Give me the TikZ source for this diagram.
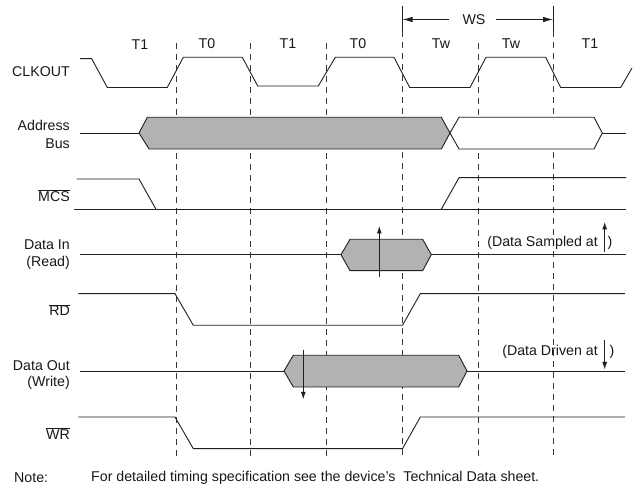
\documentclass[tikz,border=0pt]{standalone}
\usepackage{fontspec}
\setmainfont{Liberation Sans}
\usetikzlibrary{arrows.meta}
\tikzset{
  x=1pt,y=-1pt,
  sig/.style={line width=0.9pt,black!88,line join=miter},
  bus/.style={line width=0.9pt,black!88,fill=black!30,line join=miter},
  openbus/.style={line width=0.9pt,black!88,fill=white,line join=miter},
  guide/.style={line width=0.8pt,black!78,dash pattern=on 6pt off 5pt},
  tick/.style={line width=0.9pt,black!88,-{Latex[length=7.5pt,width=5pt]}},
  wstick/.style={line width=0.9pt,black!88,-{Latex[length=10pt,width=5.5pt]}},
  txt/.style={font=\fontsize{14.2}{16}\selectfont,inner sep=0pt,text=black!90},
  lab/.style={txt,anchor=east,align=right},
}
\begin{document}
\begin{tikzpicture}
\useasboundingbox[fill=white] (0,0) rectangle (633,489);
% guides
\foreach \x/\t in {176/43,250.7/43,326.7/43,402.5/31,478.7/43,553/31}
  \draw[guide] (\x,\t) -- (\x,458);
\draw[line width=0.9pt,black!88] (402.5,6) -- (402.5,31);
\draw[line width=0.9pt,black!88] (553,6) -- (553,31);
% WS
\node[txt] (ws) at (474,20) {WS};
\coordinate (wsl) at (402.5,19.5);
\coordinate (wsr) at (553,19.5);
\coordinate (wsla) at (449,19.5);
\coordinate (wsra) at (496,19.5);
\draw[wstick] (wsla) -- (wsl);
\draw[wstick] (wsra) -- (wsr);
% T labels
\node[txt] (t1a) at (140,45) {T1};
\node[txt] (t0a) at (207,43.5) {T0};
\node[txt] (t1b) at (288,43.5) {T1};
\node[txt] (t0b) at (358,43.5) {T0};
\node[txt] (twa) at (441,43.5) {Tw};
\node[txt] (twb) at (511,43.5) {Tw};
\node[txt] (t1c) at (590,43.5) {T1};
% CLKOUT
\draw[sig] (80,58.7) -- (91.7,58.7) -- (107.3,87.5) -- (167.3,87.5) -- (183.3,57.3) -- (242.3,57.3) -- (257.7,86) -- (318.3,86) -- (335.3,57.3) -- (394,57.3) -- (409.7,87.5) -- (470,87.5) -- (486,57.3) -- (545.7,57.3) -- (560.7,87.5) -- (620.7,87.5) -- (632,68);
\node[lab] (clk) at (70,72) {CLKOUT};
% Address bus
\draw[sig] (80,133) -- (139,133);
\draw[sig] (602.3,133) -- (626,133);
\draw[openbus] (450,133) -- (459,117.3) -- (594,117.3) -- (602.3,133) -- (594,149) -- (459,149) -- cycle;
\draw[bus] (139,133) -- (147.3,117.3) -- (441.3,117.3) -- (450,133) -- (441.3,149) -- (149,149) -- cycle;
\node[lab] (addr) at (70,125.5) {Address};
\node[lab] (busl) at (70,143.5) {Bus};
% MCS
\draw[sig] (76.7,179) -- (139,179) -- (156,209.3);
\draw[sig] (74.3,209.3) -- (626,209.3);
\draw[sig] (441.3,209.3) -- (459,177.7) -- (626,177.7);
\node[lab] (mcs) at (70,195.5) {$\overline{\mbox{MCS}}$};
% Data In
\draw[sig] (80,254.7) -- (341,254.7);
\draw[sig] (431.3,254.7) -- (626,254.7);
\draw[bus] (341,254.7) -- (350,239.3) -- (422.7,239.3) -- (431.3,254.7) -- (422.7,270.7) -- (350,270.7) -- cycle;
\coordinate (dia) at (379.3,276.7);
\coordinate (dib) at (379.3,226);
\draw[tick] (dia) -- (dib);
\node[lab] (din) at (70,245) {Data In};
\node[lab] (rd) at (70,262.5) {(Read)};
% RD
\draw[sig] (78.3,293.7) -- (175,293.7) -- (193.3,325.3) -- (402.5,325.3) -- (420.3,293.7) -- (625,293.7);
\node[lab] (rdn) at (70,310) {$\overline{\mbox{RD}}$};
% Data Out
\draw[sig] (80,371) -- (284,371);
\draw[sig] (467,371) -- (625,371);
\draw[bus] (284,371) -- (293.3,355.3) -- (458.7,355.3) -- (467,371) -- (458.7,387) -- (293.3,387) -- cycle;
\coordinate (doa) at (303.3,350);
\coordinate (dob) at (303.3,399.3);
\draw[tick] (doa) -- (dob);
\node[lab] (dout) at (70,366) {Data Out};
\node[lab] (wrt) at (70,383) {(Write)};
% WR
\draw[sig] (78.3,417) -- (175,417) -- (193.3,448.7) -- (402.5,448.7) -- (420.3,417) -- (625,417);
\node[lab] (wrn) at (70,433.5) {$\overline{\mbox{WR}}$};
% annotations
\node[txt,anchor=east] (samp) at (598,242.5) {(Data Sampled at};
\node[txt] (sampc) at (610,242.5) {)};
\coordinate (saa) at (604.7,252);
\coordinate (sab) at (604.7,222);
\draw[tick] (saa) -- (sab);
\node[txt,anchor=east] (driv) at (598,351.5) {(Data Driven at};
\node[txt] (drivc) at (612,351.5) {)};
\coordinate (dra) at (604.7,340);
\coordinate (drb) at (604.7,369.5);
\draw[tick] (dra) -- (drb);
% note
\node[txt,anchor=west] (note) at (14,478) {Note:};
\node[txt,anchor=west] (notet) at (91,478) {For detailed timing specification see the device’s\ \ Technical Data sheet.};
\end{tikzpicture}
\end{document}
